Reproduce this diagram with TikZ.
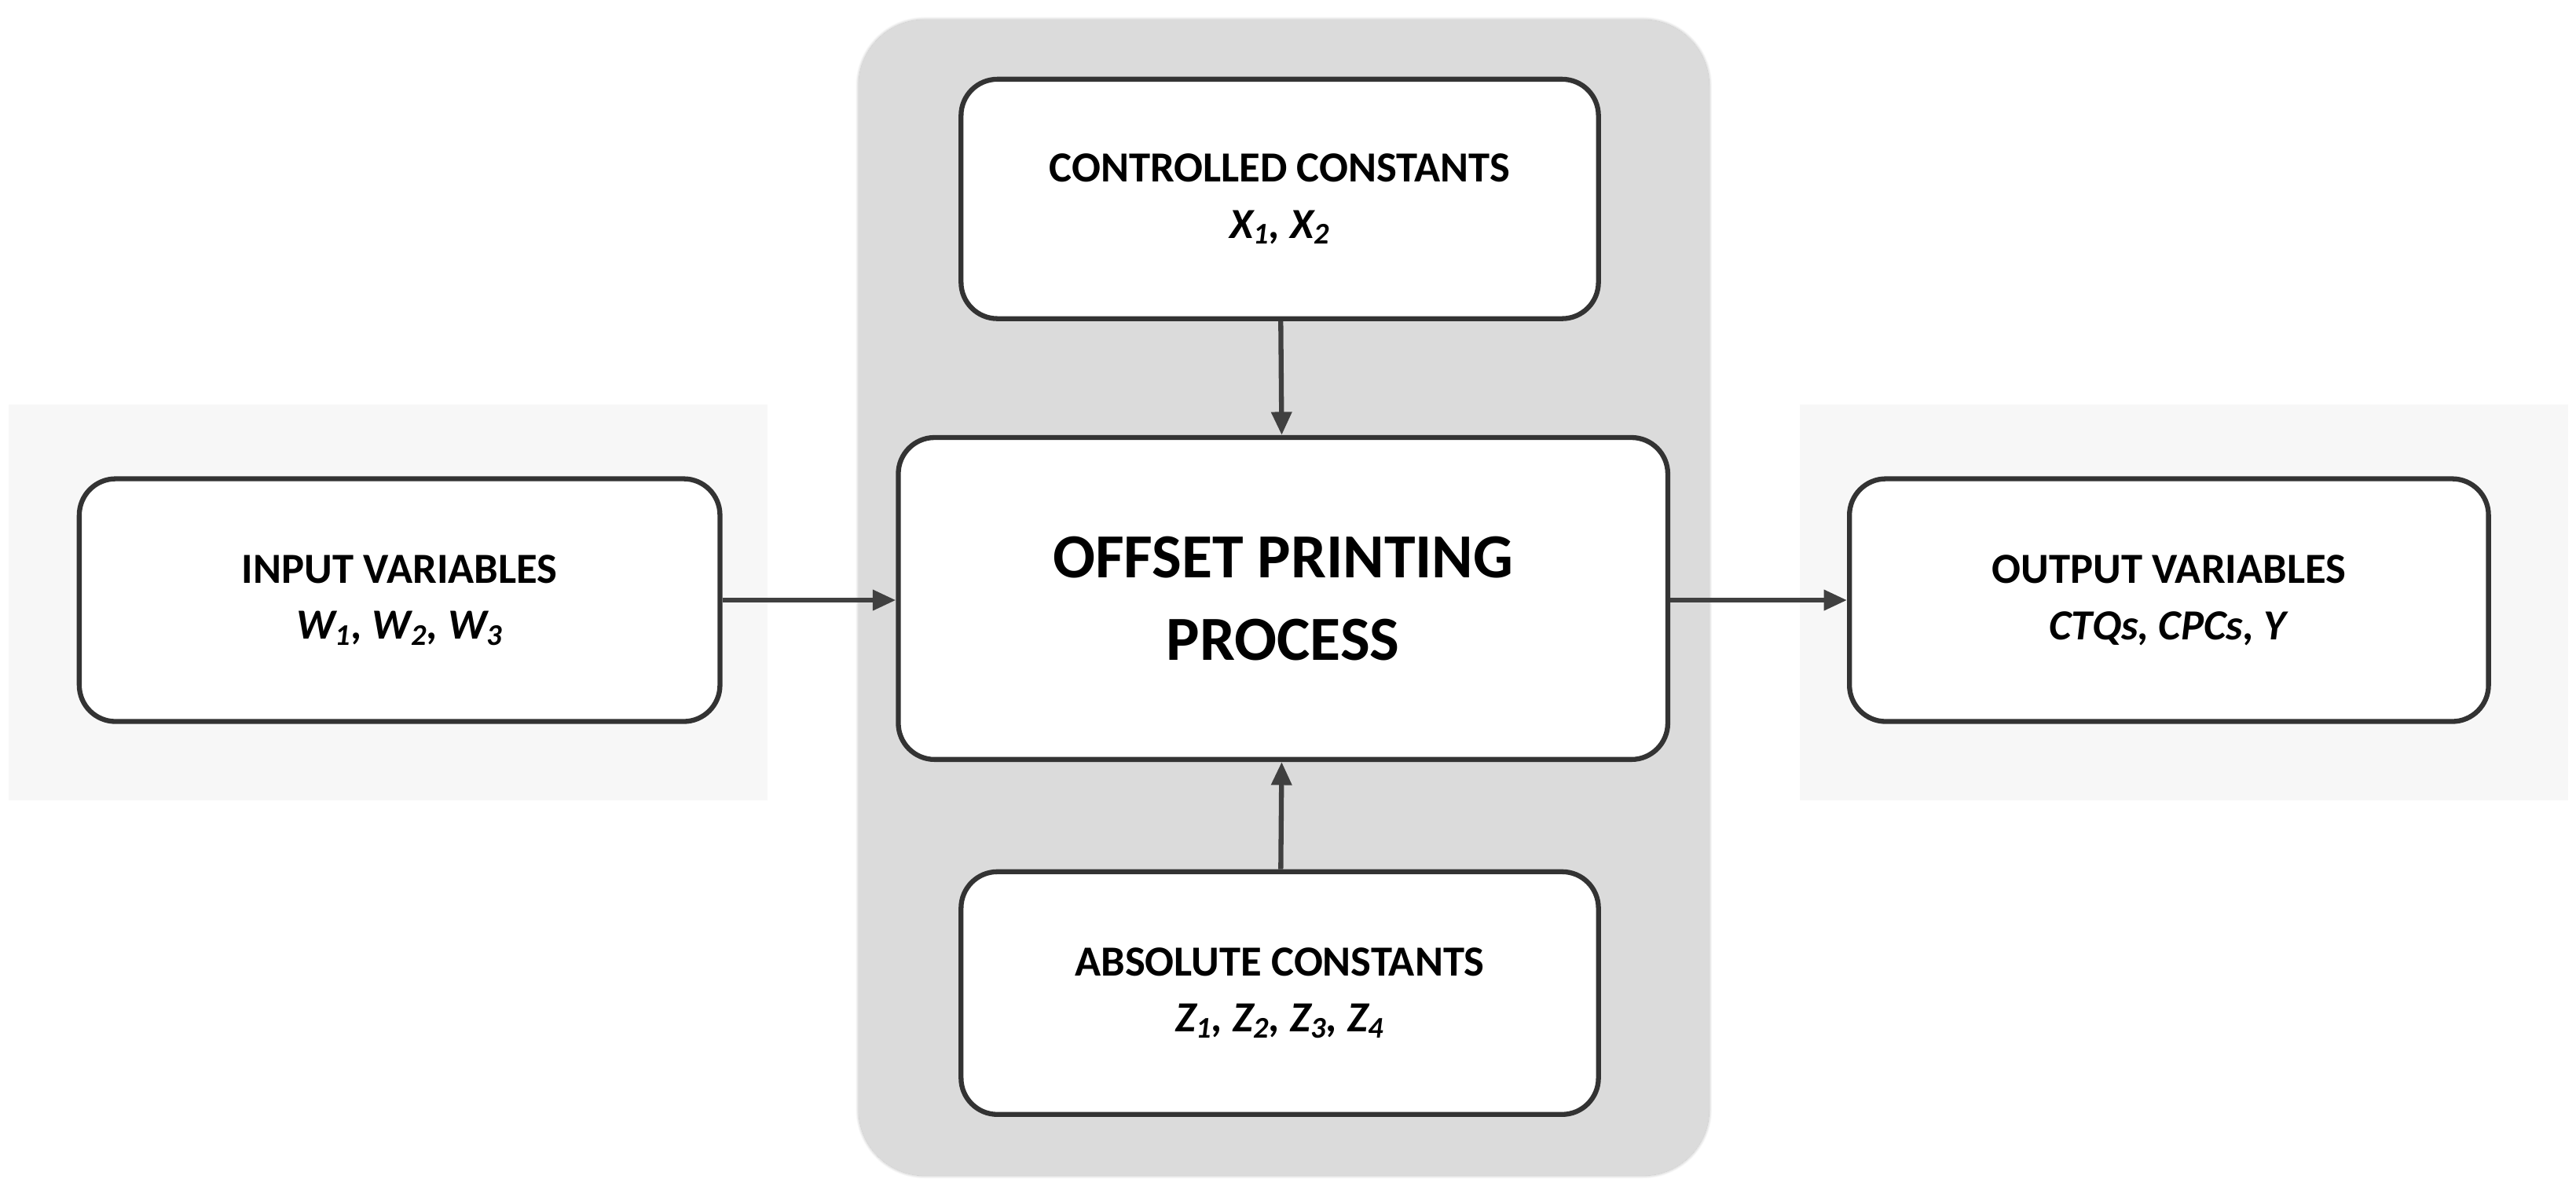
\documentclass[tikz,border=0pt]{standalone}
\usepackage{fontspec}
\setmainfont{Carlito}
\usetikzlibrary{arrows.meta,shadows.blur}
\begin{document}
\begin{tikzpicture}[x=1pt,y=-1pt,
  box/.style={draw=black!80,line width=3pt,rounded corners=22pt,fill=white,align=center,font=\fontsize{26}{34}\selectfont\bfseries},
  arr/.style={draw=black!75,line width=3pt,-{Triangle[length=14pt,width=12pt]}}]
\useasboundingbox (0,0) rectangle (1560,727);
\fill[black!3] (5,245) rectangle (465,485);
\fill[black!3] (1090,245) rectangle (1555,485);
\fill[black!14,rounded corners=40pt,blur shadow={shadow blur steps=12,shadow xshift=0pt,shadow yshift=0pt,shadow blur extra rounding=10pt,shadow opacity=30}] (520,12) rectangle (1035,712);
\node[box,minimum width=386pt,minimum height=145pt] (cc) at (775,120.5) {CONTROLLED CONSTANTS\\\textit{X\textsubscript{1}, X\textsubscript{2}}};
\node[box,minimum width=466pt,minimum height=195pt,font=\fontsize{38}{50}\selectfont\bfseries] (pp) at (777,362.5) {OFFSET PRINTING\\PROCESS};
\node[box,minimum width=386pt,minimum height=147pt] (ac) at (775,601.5) {ABSOLUTE CONSTANTS\\\textit{Z\textsubscript{1}, Z\textsubscript{2}, Z\textsubscript{3}, Z\textsubscript{4}}};
\node[box,minimum width=388pt,minimum height=147pt] (iv) at (242,363.5) {INPUT VARIABLES\\\textit{W\textsubscript{1}, W\textsubscript{2}, W\textsubscript{3}}};
\node[box,minimum width=387pt,minimum height=147pt] (ov) at (1313.5,363.5) {OUTPUT VARIABLES\\\textit{CTQs, CPCs, Y}};
\draw[arr] (cc) -- (pp);
\draw[arr] (ac) -- (pp);
\draw[arr] (iv) -- (pp.west|-iv);
\draw[arr] (pp.east|-ov) -- (ov);
\end{tikzpicture}
\end{document}
